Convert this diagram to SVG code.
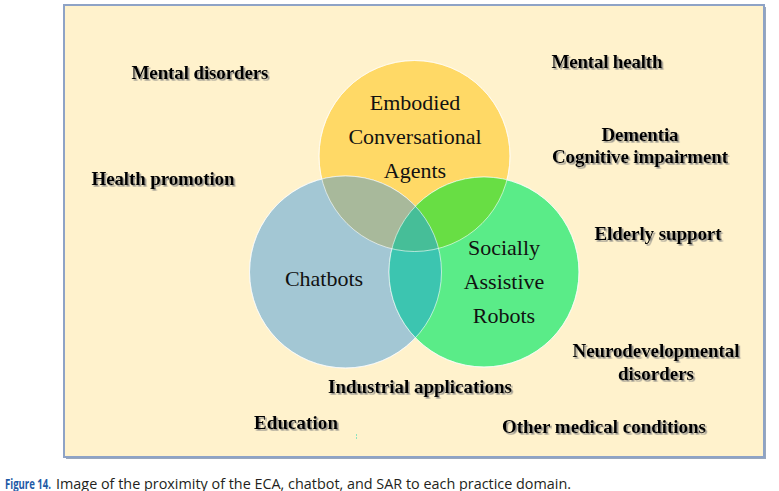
<svg xmlns="http://www.w3.org/2000/svg" width="779" height="491" viewBox="0 0 779 491">
  <defs>
    <filter id="shadow" x="-10%" y="-30%" width="120%" height="160%">
      <feDropShadow dx="1.6" dy="1.6" stdDeviation="0.7" flood-color="#7a7a7a" flood-opacity="0.8"/>
    </filter>
    <clipPath id="clipY"><circle cx="414.5" cy="156" r="95.5"/></clipPath>
    <clipPath id="clipB"><circle cx="345.5" cy="272" r="96"/></clipPath>
  </defs>
  <style>
    .dom { font-family: "Liberation Serif", "Times New Roman", serif; font-weight: bold; font-size: 19px; fill: #000; text-anchor: middle; }
    .lbl { font-family: "Liberation Serif", "Times New Roman", serif; font-size: 22px; fill: #111; text-anchor: middle; }
    .edge { stroke: #ffffff; stroke-opacity: 0.6; stroke-width: 1; }
    .cap { font-family: "Open Sans", "Noto Sans", sans-serif; font-size: 15px; fill: #231f20; }
  </style>

  <rect x="0" y="0" width="779" height="491" fill="#ffffff"/>
  <g id="frame">
    <rect x="66" y="7" width="700" height="452" fill="#9aa8bc"/>
    <rect x="64" y="5" width="700" height="452" fill="#FFF2CC" stroke="#8EA3C6" stroke-width="2"/>
  </g>

  <g id="venn">
    <g id="eca">
      <circle cx="414.5" cy="156" r="95.5" fill="#FFD966" class="edge"/>
    </g>
    <g id="chatbots">
      <circle cx="345.5" cy="272" r="96" fill="#A3C7D4" class="edge"/>
    </g>
    <g id="sar">
      <circle cx="484" cy="272" r="95" fill="#5AEC88" class="edge"/>
    </g>
    <g id="overlaps">
      <circle cx="345.5" cy="272" r="96" fill="#A8B99B" clip-path="url(#clipY)"/>
      <circle cx="484" cy="272" r="95" fill="#68DE44" clip-path="url(#clipY)"/>
      <circle cx="484" cy="272" r="95" fill="#3CC5B0" clip-path="url(#clipB)"/>
      <g clip-path="url(#clipY)">
        <circle cx="484" cy="272" r="95" fill="#46BE98" clip-path="url(#clipB)"/>
      </g>
      <circle cx="414.5" cy="156" r="95.5" fill="none" class="edge"/>
      <circle cx="345.5" cy="272" r="96" fill="none" class="edge"/>
      <circle cx="484" cy="272" r="95" fill="none" class="edge"/>
    </g>
    <text class="lbl" x="415" y="110">Embodied</text>
    <text class="lbl" x="415" y="144">Conversational</text>
    <text class="lbl" x="415" y="178">Agents</text>
    <text class="lbl" x="324" y="286">Chatbots</text>
    <text class="lbl" x="504" y="255">Socially</text>
    <text class="lbl" x="504" y="289">Assistive</text>
    <text class="lbl" x="504" y="323">Robots</text>
  </g>

  <g id="domains" filter="url(#shadow)">
    <text class="dom" x="200" y="79" textLength="137" lengthAdjust="spacing">Mental disorders</text>
    <text class="dom" x="163" y="185" textLength="143" lengthAdjust="spacing">Health promotion</text>
    <text class="dom" x="607" y="68" textLength="111" lengthAdjust="spacing">Mental health</text>
    <text class="dom" x="640" y="141" textLength="77" lengthAdjust="spacing">Dementia</text>
    <text class="dom" x="640" y="163" textLength="176" lengthAdjust="spacing">Cognitive impairment</text>
    <text class="dom" x="658" y="240" textLength="127" lengthAdjust="spacing">Elderly support</text>
    <text class="dom" x="656" y="357" textLength="167" lengthAdjust="spacing">Neurodevelopmental</text>
    <text class="dom" x="656" y="380" textLength="76" lengthAdjust="spacing">disorders</text>
    <text class="dom" x="420" y="393" textLength="184" lengthAdjust="spacing">Industrial applications</text>
    <text class="dom" x="296" y="429" textLength="84" lengthAdjust="spacing">Education</text>
    <text class="dom" x="604" y="433" textLength="204" lengthAdjust="spacing">Other medical conditions</text>
  </g>

  <line x1="356.5" y1="434" x2="356.5" y2="440" stroke="#8fe3bf" stroke-width="1" stroke-dasharray="2 1"/>

  <g id="caption">
    <text class="cap" y="488.5"><tspan x="5" font-weight="bold" fill="#1f5aa6" textLength="46" lengthAdjust="spacingAndGlyphs">Figure 14.</tspan><tspan x="56" textLength="515" lengthAdjust="spacingAndGlyphs">Image of the proximity of the ECA, chatbot, and SAR to each practice domain.</tspan></text>
  </g>
</svg>
